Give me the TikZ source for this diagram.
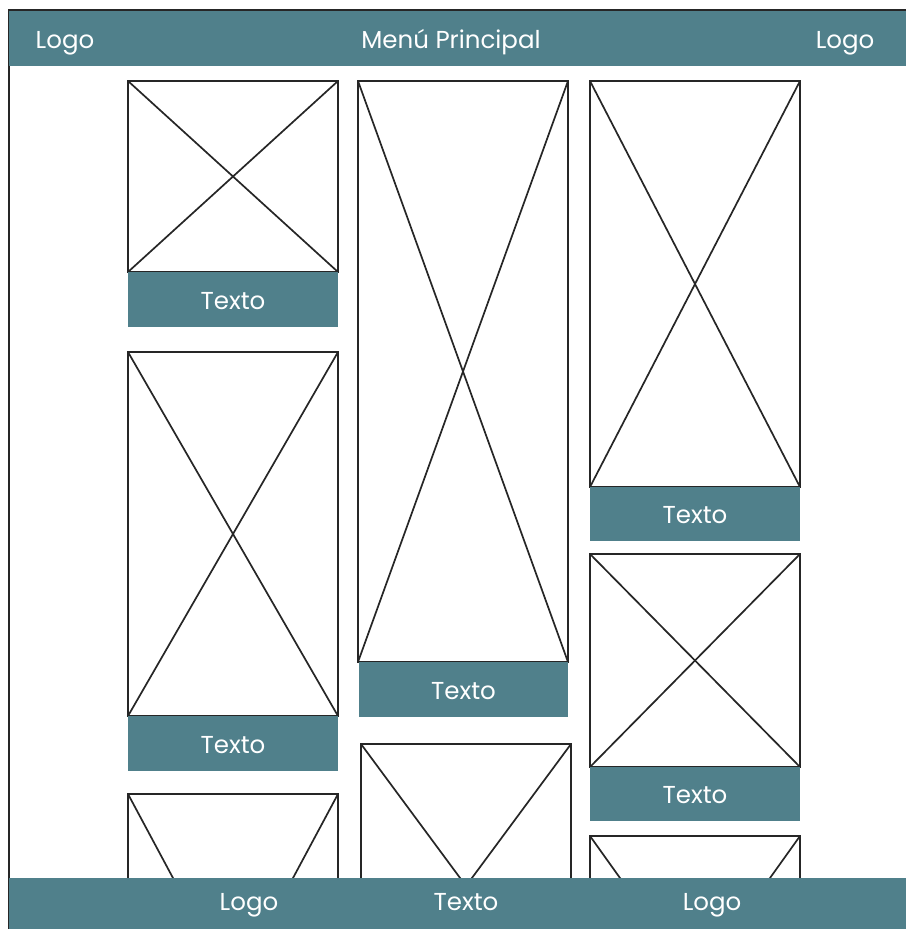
\documentclass[tikz,border=0pt]{standalone}
\usepackage{fontspec}
\setmainfont{Poppins}
\definecolor{bar}{HTML}{50808B}
\definecolor{wire}{HTML}{262626}
\tikzset{
  x=1pt,y=-1pt,
  wirebox/.style={draw=wire,line width=1.7pt,fill=white,anchor=north west,inner sep=0pt,outer sep=0pt,minimum width=#1},
  crossline/.style={draw=wire,line width=1.7pt,line cap=round},
  caption/.style={fill=bar,text=white,anchor=north west,inner sep=0pt,outer sep=0pt,font=\fontsize{24.5}{28}\selectfont,text height=19.5pt,text depth=0pt,align=center},
  barlabel/.style={text=white,inner sep=0pt,anchor=base,font=\fontsize{24.5}{28}\selectfont},
  barfill/.style={fill=bar,anchor=north west,inner sep=0pt,outer sep=0pt,minimum width=897pt},
}
\newcommand{\wireframe}[5]{% name, x, y, w, h
  \node[wirebox=#4 pt,minimum height=#5 pt] (#1) at (#2,#3) {};
  \draw[crossline] (#1.north west) -- (#1.south east);
  \draw[crossline] (#1.north east) -- (#1.south west);
}
\newcommand{\captionbar}[5]{% name,x,y,w,h
  \node[caption,minimum width=#4 pt,minimum height=#5 pt] (#1) at (#2,#3) {Texto};
}
\begin{document}
\begin{tikzpicture}
\useasboundingbox (0,0) rectangle (906,929);
\fill[white] (0,0) rectangle (906,929);
\begin{scope}
\clip (0,0) rectangle (906,878);
\wireframe{a1}{128}{81}{210}{191}
\wireframe{a2}{128}{352}{210}{364}
\wireframe{a3}{128}{794}{210}{392}
\wireframe{b1}{358}{81}{210}{581}
\wireframe{b2}{361}{744}{210}{284}
\wireframe{c1}{590}{81}{210}{406}
\wireframe{c2}{590}{554}{210}{213}
\wireframe{c3}{590}{836}{210}{294}
\end{scope}
\captionbar{ta1}{128}{272}{210}{55}
\captionbar{ta2}{128}{716}{210}{55}
\captionbar{tb1}{359}{662}{209}{55}
\captionbar{tc1}{590}{487}{210}{54}
\captionbar{tc2}{590}{767}{210}{54}
\draw[wire,line width=1.6pt] (9,929) -- (9,10) -- (906,10);
\node[barfill,minimum height=55pt] (top) at (9,10.5) {};
\node[barfill,minimum height=51pt] (bottom) at (9,878) {};
\node[barlabel] (l1) at (65,48.5) {Logo};
\node[barlabel] (l2) at (451,48.5) {Menú Principal};
\node[barlabel] (l3) at (845,48.5) {Logo};
\node[barlabel] (l4) at (249,910) {Logo};
\node[barlabel] (l5) at (466,910) {Texto};
\node[barlabel] (l6) at (712,910) {Logo};
\end{tikzpicture}
\end{document}
